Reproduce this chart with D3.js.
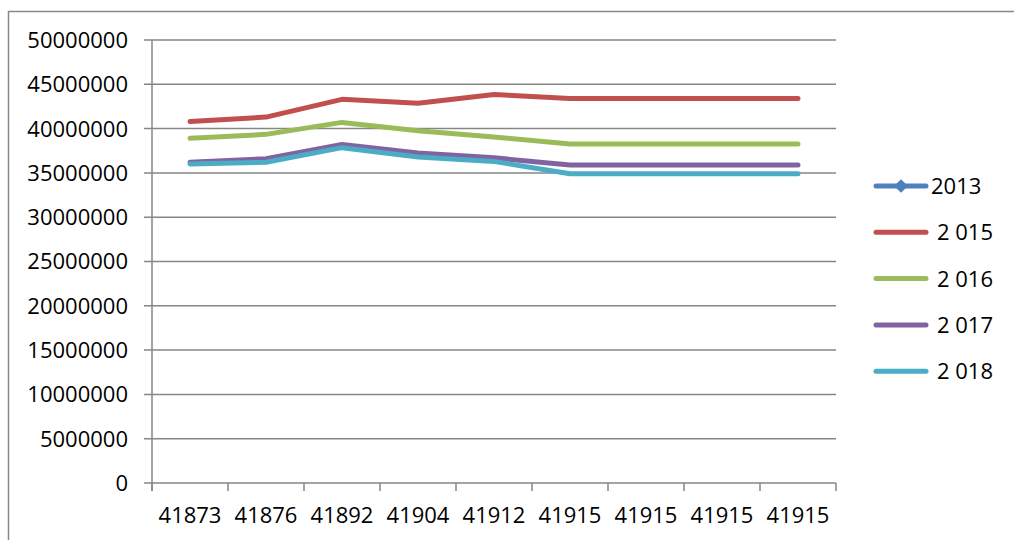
<!DOCTYPE html>
<html><head><meta charset="utf-8">
<script src="https://cdn.jsdelivr.net/npm/d3@7"></script>
<style>body{margin:0;background:#fff}svg{display:block}</style>
</head><body>
<svg id="c" width="1014" height="540"></svg>
<script>
const categories = ["41873","41876","41892","41904","41912","41915","41915","41915","41915"];
const seriesNames = ["2013","2 015","2 016","2 017","2 018"];
const s2013 = [null,null,null,null,null,null,null,null,null];
const s2015 = [40800000,41300000,43300000,42850000,43850000,43400000,43400000,43400000,43400000];
const s2016 = [38900000,39350000,40700000,39750000,39050000,38250000,38250000,38250000,38250000];
const s2017 = [36200000,36600000,38200000,37250000,36700000,35900000,35900000,35900000,35900000];
const s2018 = [36000000,36200000,37850000,36800000,36300000,34900000,34900000,34900000,34900000];
const yTicks = [0,5000000,10000000,15000000,20000000,25000000,30000000,35000000,40000000,45000000,50000000];
const colors = ["#4F81BD","#C0504D","#9BBB59","#8064A2","#4BACC6"];
const allSeries = [s2013,s2015,s2016,s2017,s2018];

const svg = d3.select("#c");
const font = "'Open Sans', sans-serif";
svg.append("rect").attr("x",8.5).attr("y",11.5).attr("width",1040).attr("height",560)
  .attr("fill","none").attr("stroke","#888").attr("stroke-width",1.5);

const L=152,R=836,T=40,B=483;
const x = d3.scaleBand().domain(d3.range(categories.length)).range([L,R]);
const y = d3.scaleLinear().domain([0,50000000]).range([B,T]);

svg.append("g").selectAll("line").data(yTicks).join("line")
  .attr("x1",L-8).attr("x2",R).attr("y1",d=>y(d)).attr("y2",d=>y(d))
  .attr("stroke","#868686").attr("stroke-width",1.5);
svg.append("line").attr("x1",L).attr("x2",L).attr("y1",T).attr("y2",B+8)
  .attr("stroke","#868686").attr("stroke-width",1.5);
svg.append("g").selectAll("text").data(yTicks).join("text")
  .attr("x",128).attr("y",d=>y(d)).attr("dy","0.36em").attr("text-anchor","end")
  .attr("font-family",font).attr("font-size",22).attr("fill","#000").text(d=>d3.format("d")(d));
const xt = d3.range(categories.length+1).map(i=>L+i*x.step());
svg.append("g").selectAll("line").data(xt).join("line")
  .attr("x1",d=>d).attr("x2",d=>d).attr("y1",B).attr("y2",B+8)
  .attr("stroke","#868686").attr("stroke-width",1.5);
svg.append("g").selectAll("text").data(categories).join("text")
  .attr("x",(d,i)=>x(i)+x.bandwidth()/2).attr("y",515).attr("dy","0.36em").attr("text-anchor","middle")
  .attr("font-family",font).attr("font-size",22).attr("fill","#000").text(d=>d);

const line = d3.line().defined(d=>d!=null).x((d,i)=>x(i)+x.bandwidth()/2).y(d=>y(d));
allSeries.forEach((s,k)=>{
  svg.append("path").datum(s).attr("d",line).attr("fill","none")
    .attr("stroke",colors[k]).attr("stroke-width",5).attr("stroke-linecap","round").attr("stroke-linejoin","round");
});

const lg = svg.append("g");
seriesNames.forEach((n,k)=>{
  const ly = 186 + k*46.3;
  lg.append("line").attr("x1",876).attr("x2",926).attr("y1",ly).attr("y2",ly)
    .attr("stroke",colors[k]).attr("stroke-width",5).attr("stroke-linecap","round");
  if(k===0){
    lg.append("path").attr("d",d3.symbol(d3.symbolDiamond2,120)()).attr("transform",`translate(901,${ly})`)
      .attr("fill",colors[k]);
  }
  lg.append("text").attr("x",k===0?931:937).attr("y",ly).attr("dy","0.36em")
    .attr("font-family",font).attr("font-size",22).attr("fill","#000").text(n);
});
</script>
</body></html>
